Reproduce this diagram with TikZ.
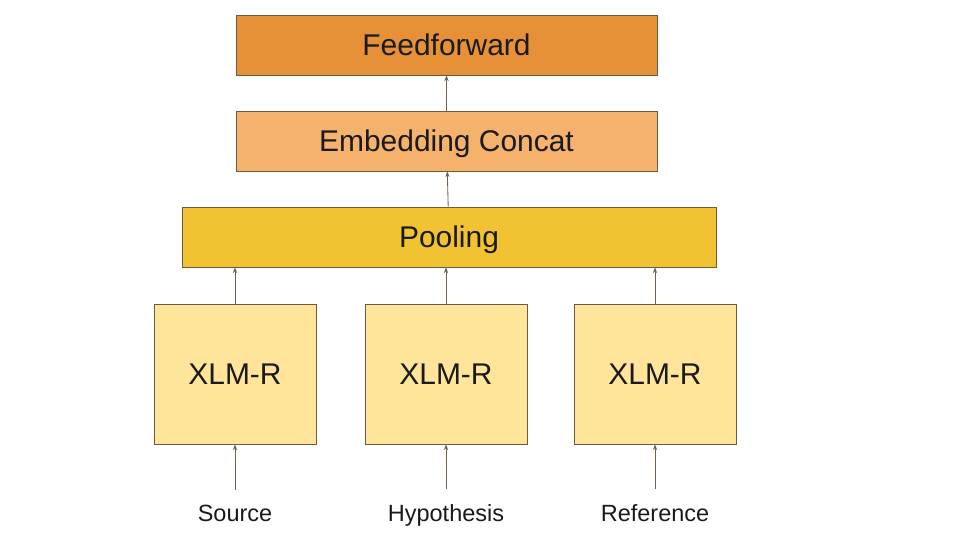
\documentclass[tikz,border=0pt]{standalone}
\usepackage{fontspec}
\setmainfont{Liberation Sans}
\usetikzlibrary{arrows.meta,positioning}
\definecolor{ffcol}{HTML}{E69138}
\definecolor{catcol}{HTML}{F4B26C}
\definecolor{poolcol}{HTML}{F1C232}
\definecolor{xlmcol}{HTML}{FFE599}
\definecolor{edgecol}{HTML}{6B5B45}
\definecolor{arrowcol}{HTML}{6E604C}
\definecolor{txtcol}{HTML}{1A1A1A}

\begin{document}
\begin{tikzpicture}[x=0.025cm, y=-0.025cm,
    layer/.style={draw=edgecol, line width=0.6pt, minimum height=1.5cm, inner sep=0pt,
      text height=15.2pt, text depth=0pt, text=txtcol, font=\fontsize{21.3}{25}\selectfont},
    enc/.style={layer, fill=xlmcol, minimum width=4.05cm, minimum height=3.5cm},
    inlabel/.style={text=txtcol, font=\fontsize{16.7}{20}\selectfont, anchor=base},
    feed/.style={-{Stealth[length=4pt, width=3pt]}, draw=arrowcol, line width=0.6pt}]
    \useasboundingbox (0,0) rectangle (960,540);
    % stacked layers
    \node[layer, fill=ffcol, minimum width=10.525cm] (ff) at (446.5,45) {Feedforward};
    \node[layer, fill=catcol, minimum width=10.525cm] (concat) at (446.5,141) {Embedding Concat};
    \node[layer, fill=poolcol, minimum width=13.35cm] (pool) at (449,237) {Pooling};
    \draw[feed] (concat) -- (ff);
    \draw[feed] (pool) -- (concat);
    % encoders and their inputs
    \foreach \n/\x/\txt in {src/235/Source, hyp/446/Hypothesis, ref/655/Reference} {
      \node[enc] (\n) at (\x,374) {XLM-R};
      \node[inlabel] (\n-in) at (\x,521) {\txt};
      \draw[feed, shorten <=7pt] (\n-in) -- (\n);
      \draw[feed] (\n) -- (\n |- pool.south);
    }
  \end{tikzpicture}
\end{document}
